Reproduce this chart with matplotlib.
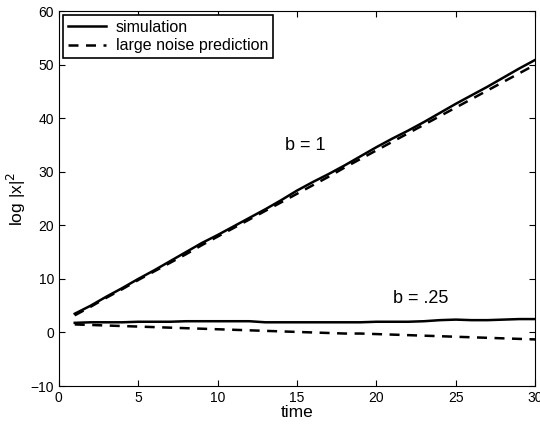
import numpy as np
import matplotlib.pyplot as plt

plt.rcParams['font.family'] = ['Liberation Sans', 'DejaVu Sans']

time = np.arange(1, 31)
sim_b1 = [3.5, 5.0, 6.7, 8.3, 10.0, 11.6, 13.3, 15.0, 16.7, 18.2,
          19.8, 21.4, 23.0, 24.7, 26.5, 28.1, 29.6, 31.2, 32.9, 34.6,
          36.2, 37.7, 39.3, 41.0, 42.7, 44.3, 45.9, 47.6, 49.3, 50.9]
pred_b1 = [3.2, 4.8, 6.5, 8.1, 9.8, 11.4, 13.0, 14.6, 16.3, 17.9,
           19.5, 21.1, 22.7, 24.3, 25.9, 27.5, 29.1, 30.8, 32.4, 34.0,
           35.6, 37.2, 38.8, 40.4, 42.0, 43.6, 45.2, 46.8, 48.4, 50.0]
sim_b025 = [1.8, 1.9, 1.9, 1.9, 2.0, 2.0, 2.0, 2.1, 2.1, 2.1,
            2.1, 2.1, 1.9, 1.9, 1.9, 1.9, 1.9, 1.9, 1.9, 2.0,
            2.0, 2.0, 2.1, 2.3, 2.4, 2.3, 2.3, 2.4, 2.5, 2.5]
pred_b025 = [1.5, 1.4, 1.3, 1.2, 1.1, 1.0, 0.9, 0.8, 0.7, 0.6,
             0.5, 0.4, 0.3, 0.2, 0.1, 0.0, -0.1, -0.2, -0.2, -0.3,
             -0.4, -0.5, -0.6, -0.7, -0.8, -0.9, -1.0, -1.1, -1.2, -1.3]

fig = plt.figure(figsize=(5.4, 4.24), dpi=100)
ax = fig.add_axes([0.109, 0.0896, 0.882, 0.884])

ax.plot(time, sim_b1, 'k-', lw=1.8, label='simulation')
ax.plot(time, pred_b1, 'k--', lw=1.8, dashes=(4, 3), label='large noise prediction')
ax.plot(time, sim_b025, 'k-', lw=1.8)
ax.plot(time, pred_b025, 'k--', lw=1.8, dashes=(4, 3))

ax.text(15.5, 35, 'b = 1', fontsize=13, ha='center', va='center')
ax.text(22.8, 6.3, 'b = .25', fontsize=13, ha='center', va='center')

ax.set_xlim(0, 30)
ax.set_ylim(-10, 60)
ax.set_xticks(range(0, 31, 5))
ax.set_yticks(range(-10, 61, 10))
ax.tick_params(direction='in', top=True, right=True, labelsize=10, length=4)
ax.set_xlabel('time', fontsize=12.5, labelpad=0)
ax.set_ylabel(r'log |x|$^2$', fontsize=12.5, labelpad=2)

leg = ax.legend(loc='upper left', fontsize=11.5, fancybox=False, edgecolor='k',
                framealpha=1, borderaxespad=0.25, handlelength=2.4,
                borderpad=0.3, labelspacing=0.2, handletextpad=0.6)
leg.get_frame().set_linewidth(1.2)

fig.savefig('out.png')
